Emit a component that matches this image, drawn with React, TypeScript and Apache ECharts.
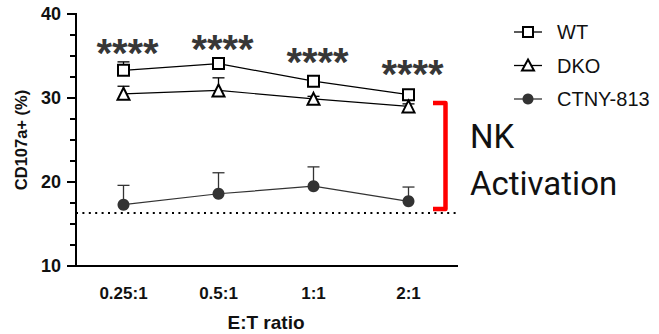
import React, { useEffect, useRef } from "react";
import * as echarts from "echarts";

const categories = ["0.25:1", "0.5:1", "1:1", "2:1"];
const seriesNames = ["WT", "DKO", "CTNY-813"];
const wtMean = [33.3, 34.1, 32.0, 30.4];
const wtUpper = [34.3, 34.4, 32.3, 30.8];
const dkoMean = [30.5, 30.9, 29.9, 29.0];
const dkoUpper = [31.4, 32.4, 30.2, 29.3];
const ctnyMean = [17.3, 18.6, 19.5, 17.7];
const ctnyUpper = [19.6, 21.1, 21.8, 19.4];
const starY = [36.3, 36.8, 35.2, 33.8];
const baseline = 16.3;
const bracketRange = [16.8, 29.4];
const yMin = 10;
const yMax = 40;

const FONT = "'Liberation Sans', Arial, sans-serif";

function errorSeries(name: string, mean: number[], upper: number[], color: string) {
  return {
    type: "custom",
    name: name + "-err",
    silent: true,
    data: mean.map((m, i) => [i, m, upper[i]]),
    renderItem: (params: any, api: any) => {
      const x = api.value(0);
      const p0 = api.coord([x, api.value(1)]);
      const p1 = api.coord([x, api.value(2)]);
      const hw = 6;
      return {
        type: "group",
        children: [
          { type: "line", shape: { x1: p0[0], y1: p0[1], x2: p1[0], y2: p1[1] }, style: { stroke: color, lineWidth: 1.3 } },
          { type: "line", shape: { x1: p1[0] - hw, y1: p1[1], x2: p1[0] + hw, y2: p1[1] }, style: { stroke: color, lineWidth: 1.3 } },
        ],
      };
    },
  };
}

function legendGraphics(): any[] {
  const out: any[] = [];
  const x0 = 514;
  const x1 = 542;
  const cx = 528;
  const tx = 557;
  seriesNames.forEach((name, i) => {
    const y = 32 + 33.5 * i;
    const color = i === 2 ? "#333" : "#000";
    out.push({ type: "line", shape: { x1: x0, y1: y, x2: x1, y2: y }, style: { stroke: color, lineWidth: 1.3 } });
    if (i === 0) {
      out.push({ type: "rect", shape: { x: cx - 5, y: y - 5, width: 10, height: 10 }, style: { fill: "#fff", stroke: "#000", lineWidth: 2 } });
    } else if (i === 1) {
      out.push({ type: "polygon", shape: { points: [[cx, y - 6], [cx + 6, y + 5], [cx - 6, y + 5]] }, style: { fill: "#fff", stroke: "#000", lineWidth: 2 } });
    } else {
      out.push({ type: "circle", shape: { cx: cx, cy: y, r: 5.5 }, style: { fill: "#333" } });
    }
    out.push({ type: "text", x: tx, y: y, style: { text: name, fontSize: 20, fontFamily: FONT, fill: "#111", verticalAlign: "middle", align: "left" } });
  });
  return out;
}

export default function App() {
  const ref = useRef<HTMLDivElement>(null);
  useEffect(() => {
    const chart = echarts.init(ref.current!, null, { renderer: "svg" });
    const option: any = {
      animation: false,
      backgroundColor: "#fff",
      grid: { left: 76, right: 203, top: 14, bottom: 68, outerBoundsMode: "none" },
      xAxis: {
        type: "category",
        data: categories,
        boundaryGap: true,
        name: "E:T ratio",
        nameLocation: "middle",
        nameGap: 47,
        nameTextStyle: { fontSize: 19, fontWeight: "bold", color: "#111", fontFamily: FONT },
        axisLine: { show: true, onZero: false, lineStyle: { color: "#000", width: 2 } },
        axisTick: { alignWithLabel: true, length: 10, lineStyle: { color: "#000", width: 2 } },
        axisLabel: { fontSize: 17, fontWeight: "bold", color: "#111", fontFamily: FONT, margin: 19 },
      },
      yAxis: {
        type: "value",
        min: yMin,
        max: yMax,
        interval: 10,
        name: "CD107a+ (%)",
        nameLocation: "middle",
        nameRotate: 90,
        nameGap: 47,
        nameTextStyle: { fontSize: 16.5, fontWeight: "bold", color: "#111", fontFamily: FONT },
        axisLine: { show: true, onZero: false, lineStyle: { color: "#000", width: 2 } },
        axisTick: { show: true, length: 9, lineStyle: { color: "#000", width: 2 } },
        minorTick: { show: true, splitNumber: 4, length: 6, lineStyle: { color: "#000", width: 2 } },
        splitLine: { show: false },
        axisLabel: { fontSize: 18, fontWeight: "bold", color: "#111", fontFamily: FONT, margin: 15 },
      },
      series: [
        errorSeries("WT", wtMean, wtUpper, "#000"),
        errorSeries("DKO", dkoMean, dkoUpper, "#000"),
        errorSeries("CTNY-813", ctnyMean, ctnyUpper, "#333"),
        {
          type: "line",
          name: "WT",
          data: wtMean,
          symbol: "rect",
          symbolSize: 11,
          lineStyle: { color: "#000", width: 1.2 },
          itemStyle: { color: "#fff", borderColor: "#000", borderWidth: 2 },
        },
        {
          type: "line",
          name: "DKO",
          data: dkoMean,
          symbol: "triangle",
          symbolSize: 12,
          lineStyle: { color: "#000", width: 1.2 },
          itemStyle: { color: "#fff", borderColor: "#000", borderWidth: 2 },
        },
        {
          type: "line",
          name: "CTNY-813",
          data: ctnyMean,
          symbol: "circle",
          symbolSize: 12,
          lineStyle: { color: "#333", width: 1.2 },
          itemStyle: { color: "#333", borderColor: "#333", borderWidth: 0 },
          markLine: {
            silent: true,
            symbol: "none",
            label: { show: false },
            lineStyle: { color: "#000", width: 2, type: [2, 4.4] },
            data: [{ yAxis: baseline }],
          },
        },
        {
          type: "scatter",
          name: "stars",
          data: starY.map((v, i) => [i, v]),
          symbolSize: 1,
          itemStyle: { color: "transparent" },
          silent: true,
          label: {
            show: true,
            position: "inside",
            formatter: "****",
            fontSize: 40,
            fontWeight: "bold",
            color: "#000",
            fontFamily: FONT,
            offset: [4, 8],
          },
        },
      ],
    };
    chart.setOption(option);
    const yTopAxis = chart.convertToPixel({ yAxisIndex: 0 }, yMax) as number;
    const yBotAxis = chart.convertToPixel({ yAxisIndex: 0 }, yMin) as number;
    const c0 = chart.convertToPixel({ xAxisIndex: 0 }, 0) as number;
    const c3 = chart.convertToPixel({ xAxisIndex: 0 }, categories.length - 1) as number;
    const band = (c3 - c0) / (categories.length - 1);
    const xL = c0 - band / 2;
    const xR = c3 + band / 2;
    const yTop = chart.convertToPixel({ yAxisIndex: 0 }, bracketRange[1]) as number;
    const yBot = chart.convertToPixel({ yAxisIndex: 0 }, bracketRange[0]) as number;
    const bx = 445.5;
    chart.setOption({
      graphic: [
        {
          type: "line",
          shape: { x1: xL, y1: yTopAxis - 1, x2: xL, y2: yBotAxis + 1 },
          style: { stroke: "#000", lineWidth: 2 },
        },
        {
          type: "line",
          shape: { x1: xL - 1, y1: yBotAxis, x2: xR + 2, y2: yBotAxis },
          style: { stroke: "#000", lineWidth: 2 },
        },
        {
          type: "polyline",
          shape: { points: [[433, yTop], [bx, yTop], [bx, yBot], [433, yBot]] },
          style: { stroke: "#ff0000", lineWidth: 4.5, fill: null, lineJoin: "round" },
        },
        {
          type: "text",
          left: 470,
          top: 120,
          style: { text: "NK", fontSize: 33, fontFamily: "Roboto", fill: "#111" },
        },
        {
          type: "text",
          left: 470,
          top: 167,
          style: { text: "Activation", fontSize: 33, fontFamily: "Roboto", fill: "#111" },
        },
        ...legendGraphics(),
      ],
    });
    return () => chart.dispose();
  }, []);
  return <div ref={ref} style={{ width: 659, height: 334, position: "absolute", left: 0, top: 0 }} />;
}
